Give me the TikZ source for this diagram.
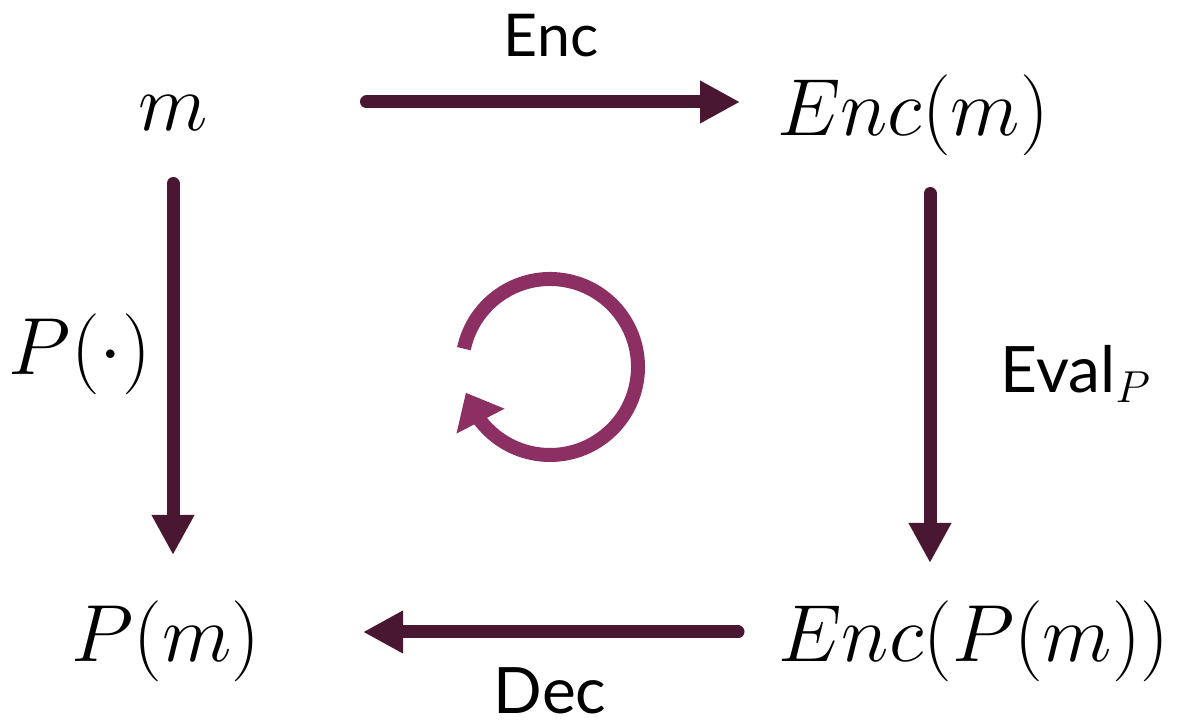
\RequirePackage{fix-cm}
\documentclass[tikz,border=0pt]{standalone}
\usepackage{amsmath,amssymb}
\usepackage{fontspec}
\newfontfamily\lblfont{Lato}
\usetikzlibrary{arrows.meta,positioning,calc,bending}
\definecolor{vplum}{HTML}{4A1733}
\definecolor{vberry}{HTML}{8C2F62}
\tikzset{
  obj/.style={inner sep=0pt,anchor=base,font=\fontsize{40.5}{48}\selectfont},
  lbl/.style={inner sep=0pt,anchor=base,font=\lblfont\fontsize{32}{38}\selectfont},
  arr/.style={-{Triangle[length=20pt,width=20pt]},line width=6.5pt,line cap=round,draw=vplum},
  loopar/.style={-{Triangle[length=16pt,width=26pt,flex]},line width=7pt,draw=vberry},
}

\begin{document}
\begin{tikzpicture}[x=0.5pt,y=0.5pt]
  \useasboundingbox (0,0) rectangle (1196,721);
  \node[obj] (m) at (173,590) {$m$};
  \node[obj] (encm) at (913,585) {$Enc(m)$};
  \node[obj] (pm) at (166,59) {$P(m)$};
  \node[obj] (encpm) at (974,59) {$Enc(P(m))$};
  \node[obj] (pdot) at (80,346) {$P(\cdot)$};
  \node[lbl,font=\lblfont\fontsize{29.5}{35}\selectfont] (enc) at (551,664) {Enc};
  \node[lbl] (dec) at (550,7) {Dec};
  \node[lbl] (evalp) at (1076,328) {Eval$_P$};
  \draw[arr] ($(m.base)+(193.5,29)$) -- ($(encm.base)+(-173,34)$);
  \draw[arr] ($(m.base)+(0,-52.5)$) -- ($(pm.base)+(7,107)$);
  \draw[arr] ($(encm.base)+(17,-57.5)$) -- ($(encpm.base)+(-44,99)$);
  \draw[arr] ($(encpm.base)+(-236,30)$) -- ($(pm.base)+(197,30)$);
  % the loop in the middle
  \coordinate (cyc) at (550,354);
  \draw[loopar] ([shift={(168:44pt)}]cyc) arc[start angle=168,end angle=-163,radius=44pt];
\end{tikzpicture}
\end{document}
